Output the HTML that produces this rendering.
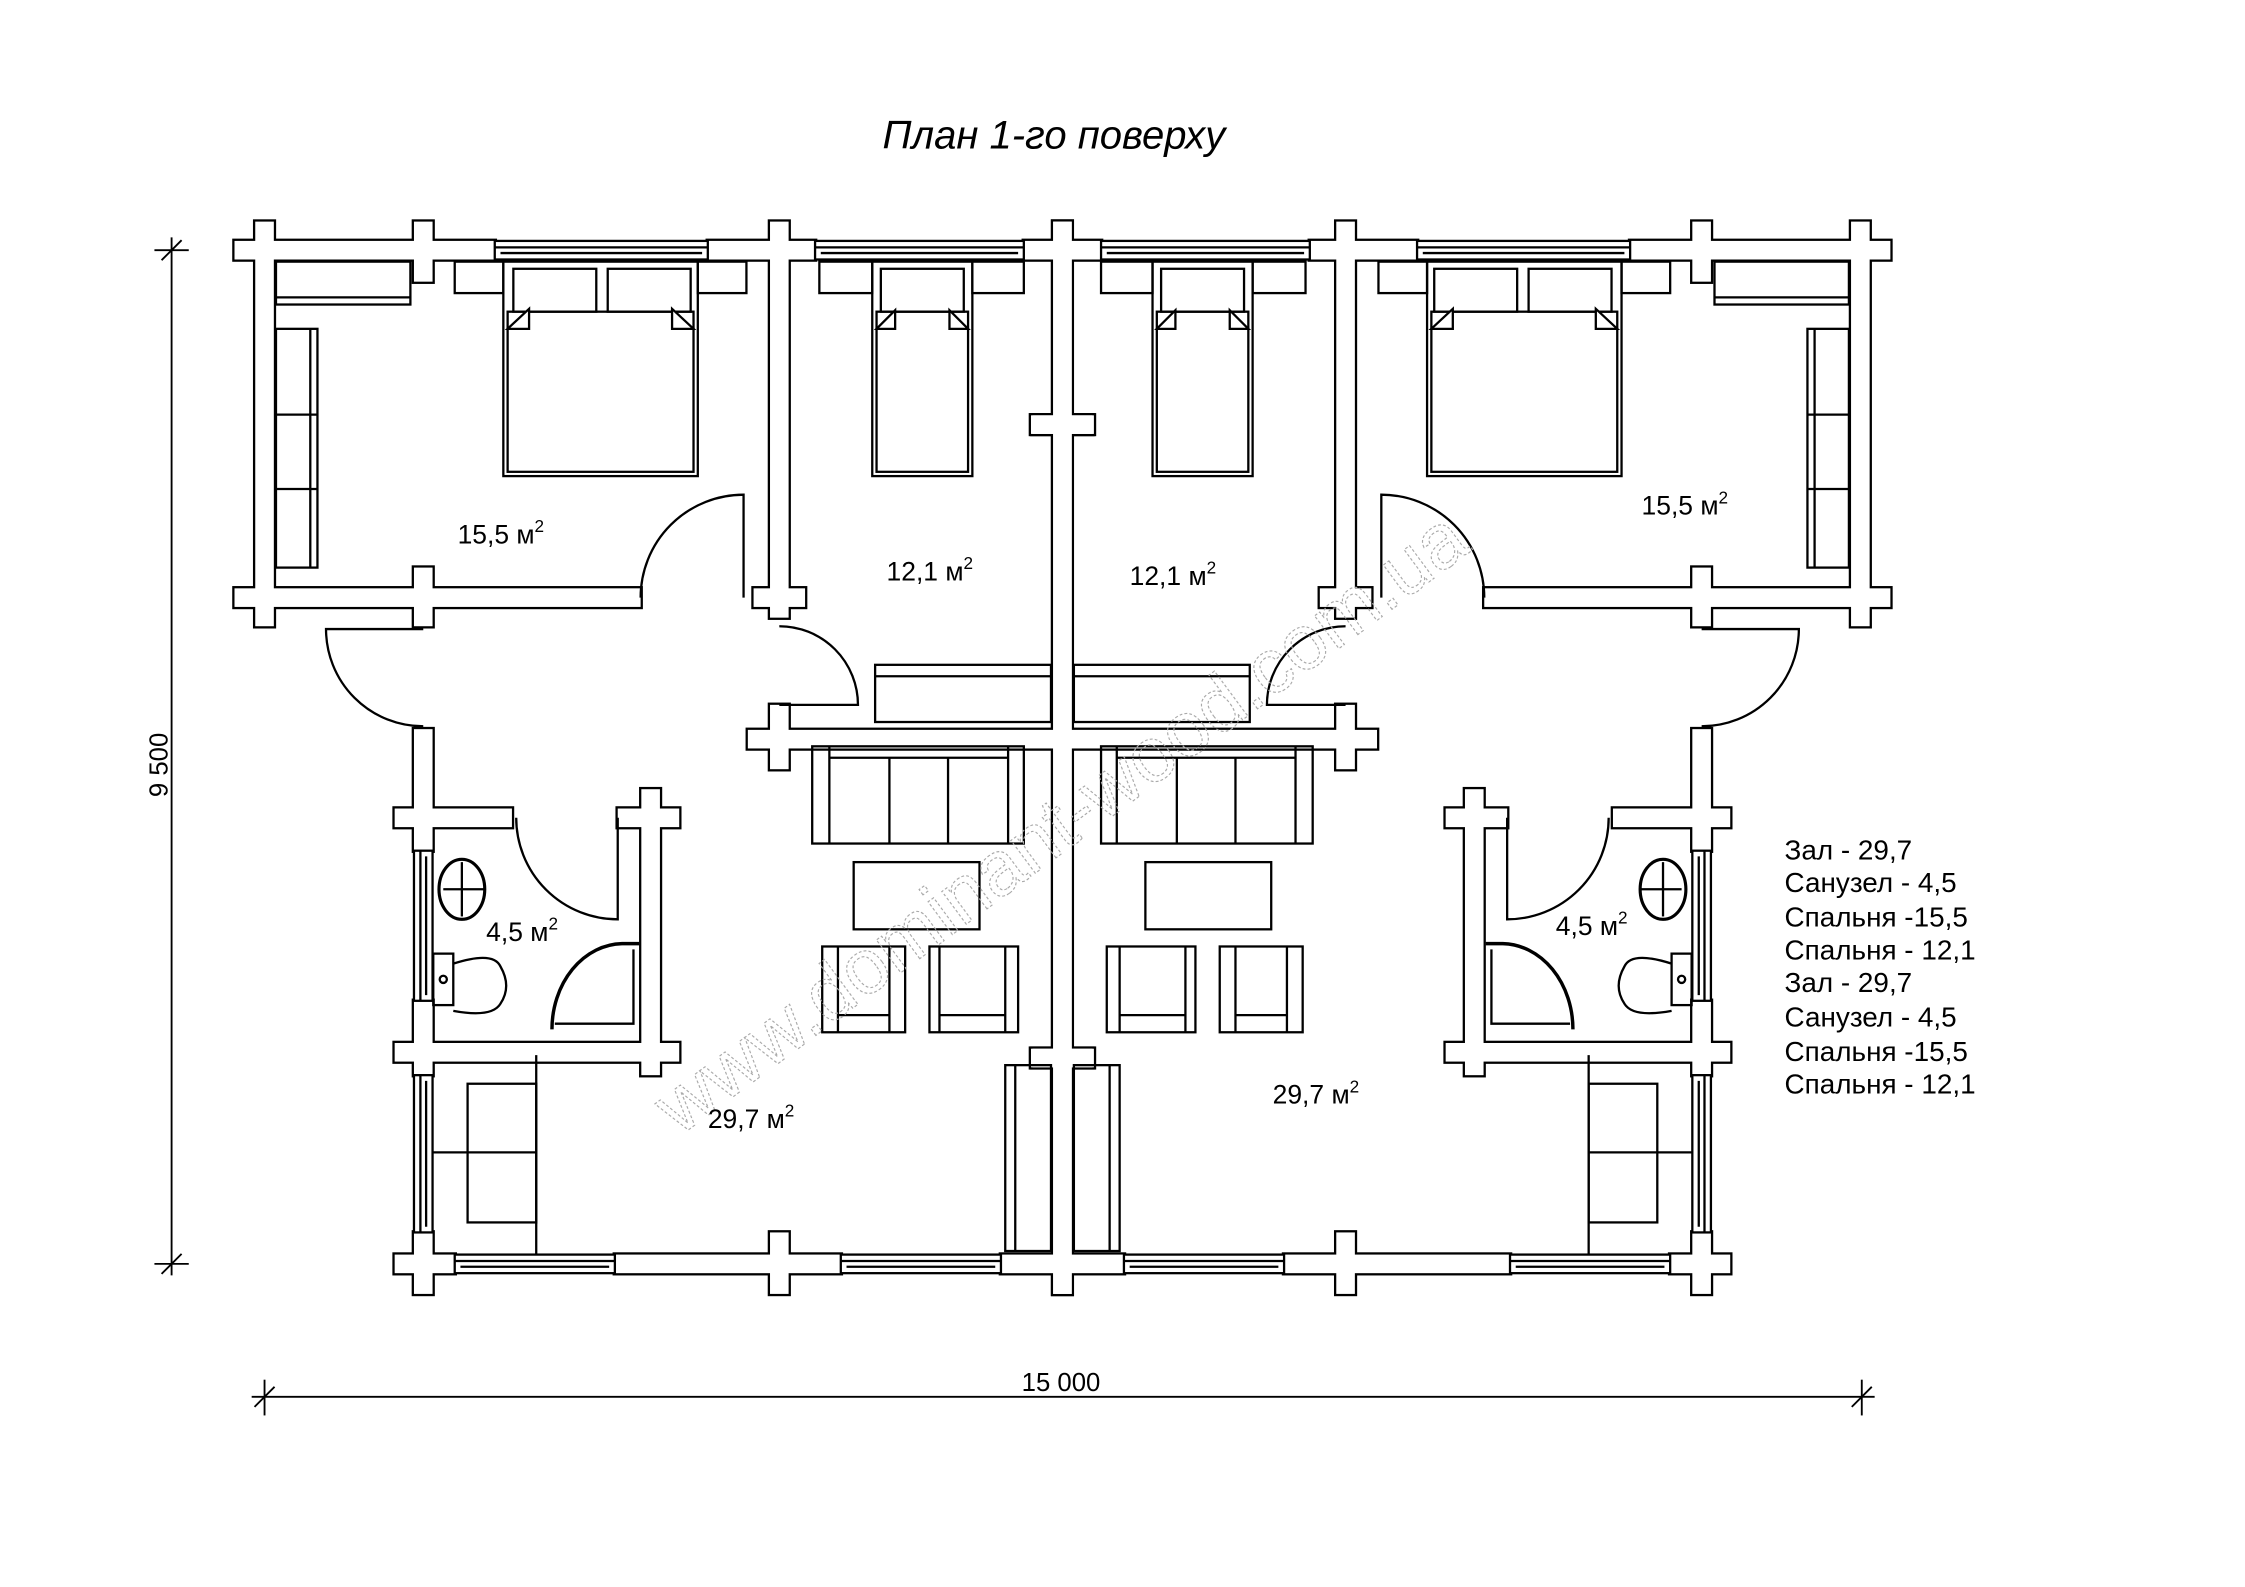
<!DOCTYPE html>
<html><head><meta charset="utf-8"><style>
html,body{margin:0;padding:0;background:#fff;}
svg{display:block;}
text{font-family:"Liberation Sans",Arial,sans-serif;}
</style></head><body>
<svg width="2245" height="1587" viewBox="0 0 1570 1110" preserveAspectRatio="none" xmlns="http://www.w3.org/2000/svg">
<defs>
<g id="W">
<rect x="164" y="168.5" width="182" height="13"/>
<rect x="495" y="168.5" width="75" height="13"/>
<rect x="716" y="168.5" width="27" height="13"/>
<rect x="178.5" y="155" width="13" height="283"/>
<rect x="289.5" y="155" width="13" height="42"/>
<rect x="538.5" y="155" width="13" height="277"/>
<rect x="736.5" y="155" width="13" height="750"/>
<rect x="722" y="290.5" width="43" height="13"/>
<rect x="164" y="411.5" width="284" height="13"/>
<rect x="289.5" y="397" width="13" height="41"/>
<rect x="527" y="411.5" width="36" height="13"/>
<rect x="538.5" y="493" width="13" height="45"/>
<rect x="523" y="510.5" width="220" height="13"/>
<rect x="289.5" y="510" width="13" height="85"/>
<rect x="289.5" y="700" width="13" height="52"/>
<rect x="289.5" y="862" width="13" height="43"/>
<rect x="276" y="565.5" width="82" height="13"/>
<rect x="276" y="729.5" width="199" height="13"/>
<rect x="448.5" y="552" width="13" height="200"/>
<rect x="432" y="565.5" width="43" height="13"/>
<rect x="722" y="733.5" width="43" height="13"/>
<rect x="276" y="877.5" width="42" height="13"/>
<rect x="430" y="877.5" width="158" height="13"/>
<rect x="700" y="877.5" width="43" height="13"/>
<rect x="538.5" y="862" width="13" height="43"/>
</g>
<g id="WW">
<use href="#W"/>
<use href="#W" transform="translate(1486,0) scale(-1,1)"/>
</g>
<g id="F" fill="none" stroke="#000" stroke-width="1.6">
<rect x="346" y="168.5" width="149" height="13" fill="#fff"/>
<line x1="346" y1="173" x2="495" y2="173"/><line x1="350" y1="177" x2="491" y2="177"/>
<rect x="570" y="168.5" width="146" height="13" fill="#fff"/>
<line x1="570" y1="173" x2="716" y2="173"/><line x1="574" y1="177" x2="712" y2="177"/>
<rect x="318" y="877.5" width="112" height="13" fill="#fff"/>
<line x1="318" y1="882" x2="430" y2="882"/><line x1="322" y1="886" x2="426" y2="886"/>
<rect x="588" y="877.5" width="112" height="13" fill="#fff"/>
<line x1="588" y1="882" x2="700" y2="882"/><line x1="592" y1="886" x2="696" y2="886"/>
<rect x="289.5" y="595" width="13" height="105" fill="#fff"/>
<line x1="294" y1="595" x2="294" y2="700"/><line x1="298" y1="599" x2="298" y2="696"/>
<rect x="289.5" y="752" width="13" height="110" fill="#fff"/>
<line x1="294" y1="752" x2="294" y2="862"/><line x1="298" y1="756" x2="298" y2="858"/>
<path d="M520 418 V346 A72 72 0 0 0 448 418"/>
<path d="M545 493 H600 A55 55 0 0 0 545 438"/>
<path d="M296 440 H228 A68 68 0 0 0 296 508"/>
<path d="M432 572 V643 A71 71 0 0 1 361 572"/>
<rect x="193" y="183" width="94" height="30"/><line x1="193" y1="208" x2="287" y2="208"/>
<rect x="193" y="230" width="29" height="167"/><line x1="217" y1="230" x2="217" y2="397"/>
<line x1="193" y1="290" x2="222" y2="290"/><line x1="193" y1="342" x2="222" y2="342"/>
<rect x="318" y="183" width="34" height="22"/><rect x="488" y="183" width="34" height="22"/>
<rect x="352" y="183" width="136" height="150"/>
<rect x="355" y="218" width="130" height="112"/>
<rect x="359" y="188" width="58" height="30"/><rect x="425" y="188" width="58" height="30"/>
<path d="M355 230 L370 216 V230 Z M485 230 L470 216 V230 Z" fill="#fff"/>
<rect x="573" y="183" width="37" height="22"/><rect x="680" y="183" width="36" height="22"/>
<rect x="610" y="183" width="70" height="150"/>
<rect x="613" y="218" width="64" height="112"/>
<rect x="616" y="188" width="58" height="30"/>
<path d="M613 230 L626 217 V230 Z M677 230 L664 217 V230 Z" fill="#fff"/>
<rect x="612" y="465" width="123" height="40"/><line x1="612" y1="473" x2="735" y2="473"/>
<rect x="568" y="522" width="148" height="68"/><line x1="580" y1="530" x2="705" y2="530"/>
<line x1="580" y1="522" x2="580" y2="590"/><line x1="705" y1="522" x2="705" y2="590"/>
<line x1="622" y1="530" x2="622" y2="590"/><line x1="663" y1="530" x2="663" y2="590"/>
<rect x="597" y="603" width="88" height="47"/>
<rect x="575" y="662" width="58" height="60"/><line x1="586" y1="662" x2="586" y2="722"/><line x1="622" y1="662" x2="622" y2="722"/><line x1="586" y1="710" x2="622" y2="710"/>
<rect x="650" y="662" width="62" height="60"/><line x1="657" y1="662" x2="657" y2="722"/><line x1="703" y1="662" x2="703" y2="722"/><line x1="657" y1="710" x2="703" y2="710"/>
<line x1="375" y1="738" x2="375" y2="878"/>
<rect x="327" y="758" width="48" height="97"/><line x1="303" y1="806" x2="375" y2="806"/>
<rect x="703" y="745" width="32" height="130"/><line x1="710" y1="745" x2="710" y2="875"/>
<ellipse cx="323" cy="622" rx="16" ry="21" stroke-width="2.2"/>
<line x1="310" y1="622" x2="339" y2="622"/><line x1="323" y1="603" x2="323" y2="641"/>
<rect x="303" y="667" width="14" height="36"/>
<path d="M317 674 Q345 665 350 676 Q358 690 350 702 Q344 712 317 707"/>
<circle cx="310" cy="685" r="2.5"/>
<path d="M447 660 H435 A50 60 0 0 0 386 720" stroke-width="2.4"/>
<path d="M443 664 V716 H388"/>
</g>
</defs>

<use href="#WW" fill="#fff" stroke="#000" stroke-width="3.2"/>
<use href="#WW" fill="#fff" stroke="none"/>

<use href="#F"/>
<use href="#F" transform="translate(1486,0) scale(-1,1)"/>

<text x="0" y="0" transform="translate(475,795) rotate(-36.5)" font-size="54" fill="none" stroke="#aaa" stroke-width="0.8" stroke-dasharray="2 1.5">www.dominant-wood.com.ua</text>

<g font-size="18.5" fill="#000">
<text x="320" y="380">15,5 м<tspan dy="-8" font-size="12">2</tspan></text>
<text x="1148" y="360">15,5 м<tspan dy="-8" font-size="12">2</tspan></text>
<text x="620" y="406">12,1 м<tspan dy="-8" font-size="12">2</tspan></text>
<text x="790" y="409">12,1 м<tspan dy="-8" font-size="12">2</tspan></text>
<text x="340" y="658">4,5 м<tspan dy="-8" font-size="12">2</tspan></text>
<text x="1088" y="654">4,5 м<tspan dy="-8" font-size="12">2</tspan></text>
<text x="495" y="789">29,7 м<tspan dy="-8" font-size="12">2</tspan></text>
<text x="890" y="772">29,7 м<tspan dy="-8" font-size="12">2</tspan></text>
</g>
<text x="737" y="104" font-size="28" font-style="italic" text-anchor="middle">План 1-го поверху</text>
<g font-size="19.5" fill="#000">
<text x="1248" y="601">Зал - 29,7</text>
<text x="1248" y="624">Санузел - 4,5</text>
<text x="1248" y="648">Спальня -15,5</text>
<text x="1248" y="671">Спальня - 12,1</text>
<text x="1248" y="694">Зал - 29,7</text>
<text x="1248" y="718">Санузел - 4,5</text>
<text x="1248" y="742">Спальня -15,5</text>
<text x="1248" y="765">Спальня - 12,1</text>
</g>
<g stroke="#000" stroke-width="1.3" fill="none">
<line x1="120" y1="166" x2="120" y2="892"/>
<line x1="108" y1="175" x2="132" y2="175"/><line x1="113" y1="182" x2="127" y2="168"/>
<line x1="108" y1="884" x2="132" y2="884"/><line x1="113" y1="891" x2="127" y2="877"/>
<line x1="176" y1="977" x2="1311" y2="977"/>
<line x1="185" y1="965" x2="185" y2="990"/><line x1="178" y1="984" x2="192" y2="970"/>
<line x1="1302" y1="965" x2="1302" y2="990"/><line x1="1295" y1="984" x2="1309" y2="970"/>
</g>
<text x="742" y="973" font-size="18" text-anchor="middle">15 000</text>
<text x="0" y="0" transform="translate(117,535) rotate(-90)" font-size="18" text-anchor="middle">9 500</text>
</svg>
</body></html>
